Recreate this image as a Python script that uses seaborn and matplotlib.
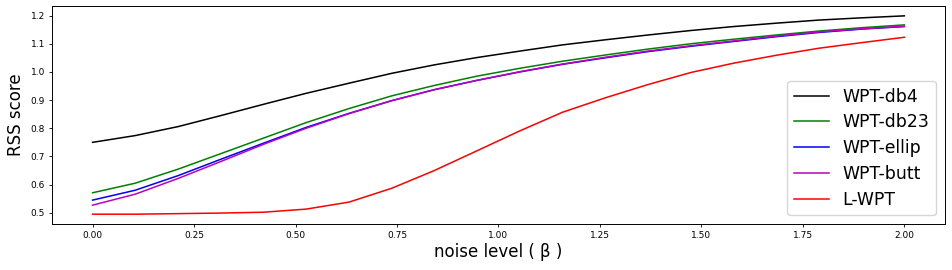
import numpy as np
import pandas as pd
import matplotlib
matplotlib.use("Agg")
import matplotlib.pyplot as plt
import seaborn as sns

noise = [0.0, 0.105, 0.211, 0.316, 0.421, 0.526, 0.632, 0.737, 0.842, 0.947,
         1.053, 1.158, 1.263, 1.368, 1.474, 1.579, 1.684, 1.789, 1.895, 2.0]

wpt_db4 = [0.750, 0.774, 0.806, 0.845, 0.885, 0.924, 0.960, 0.995, 1.025, 1.051,
           1.074, 1.096, 1.114, 1.131, 1.147, 1.161, 1.173, 1.184, 1.192, 1.199]
wpt_db23 = [0.571, 0.605, 0.655, 0.710, 0.765, 0.820, 0.870, 0.915, 0.952, 0.985,
            1.013, 1.038, 1.060, 1.081, 1.100, 1.116, 1.131, 1.145, 1.157, 1.167]
wpt_ellip = [0.545, 0.580, 0.632, 0.690, 0.747, 0.803, 0.853, 0.898, 0.937, 0.970,
             1.000, 1.027, 1.050, 1.072, 1.091, 1.108, 1.125, 1.140, 1.152, 1.161]
wpt_butt = [0.527, 0.566, 0.622, 0.682, 0.743, 0.800, 0.852, 0.898, 0.937, 0.970,
            1.001, 1.028, 1.052, 1.074, 1.093, 1.110, 1.127, 1.142, 1.153, 1.162]
l_wpt = [0.495, 0.495, 0.497, 0.499, 0.502, 0.513, 0.538, 0.587, 0.650, 0.720,
         0.791, 0.857, 0.908, 0.955, 0.998, 1.031, 1.059, 1.084, 1.104, 1.123]

methods = ["WPT-db4", "WPT-db23", "WPT-ellip", "WPT-butt", "L-WPT"]
series = [wpt_db4, wpt_db23, wpt_ellip, wpt_butt, l_wpt]
colors = ["black", "green", "blue", "m", "red"]

df = pd.concat([pd.DataFrame({"noise": noise, "rss": s, "method": m})
                for m, s in zip(methods, series)], ignore_index=True)

fig, ax = plt.subplots(figsize=(9.52, 2.70), dpi=100)
fig.subplots_adjust(left=0.0546, right=0.9926, top=0.978, bottom=0.170)

sns.lineplot(data=df, x="noise", y="rss", hue="method", hue_order=methods,
             palette=colors, linewidth=1.1, ax=ax)

ax.set_xticks([0.0, 0.25, 0.5, 0.75, 1.0, 1.25, 1.5, 1.75, 2.0])
ax.set_xticklabels(["0.00", "0.25", "0.50", "0.75", "1.00", "1.25", "1.50", "1.75", "2.00"])
ax.set_yticks([0.5, 0.6, 0.7, 0.8, 0.9, 1.0, 1.1, 1.2])
ax.tick_params(labelsize=6.5, length=2.5, width=0.6, pad=2.5)
for sp in ax.spines.values():
    sp.set_linewidth(0.7)
ax.set_xlabel("noise level ( β )", fontsize=12, labelpad=2)
ax.set_ylabel("RSS score", fontsize=12, labelpad=4)

handles, labels = ax.get_legend_handles_labels()
ax.legend(handles, labels, loc="lower right", fontsize=12.4, handlelength=2.0,
          borderaxespad=0.5, labelspacing=0.45)

fig.savefig("out.png", dpi=100)
